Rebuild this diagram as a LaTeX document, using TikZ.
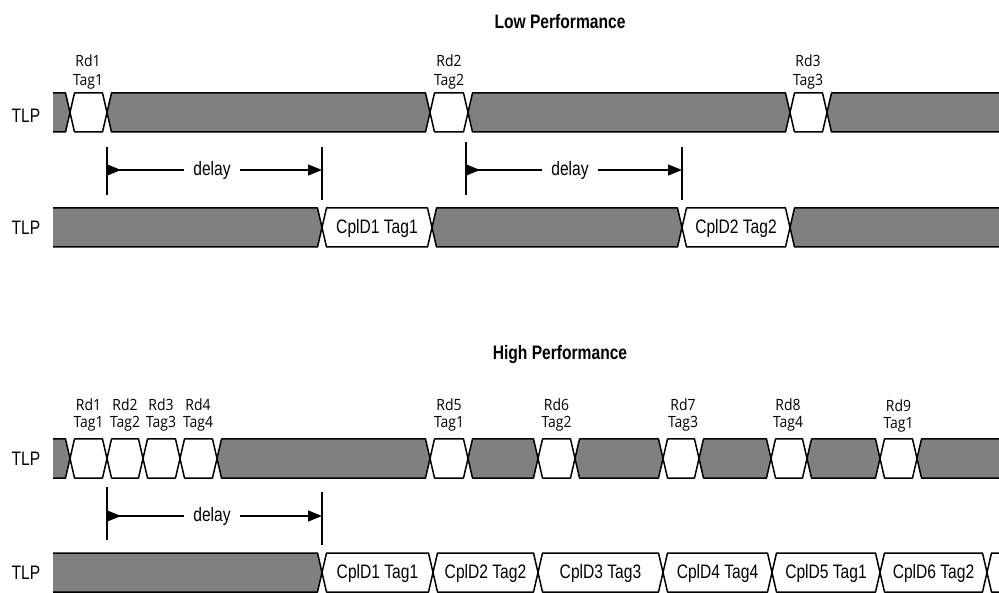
\documentclass[tikz,border=0pt]{standalone}
\usepackage{fontspec}
\setmainfont{Liberation Sans}[FakeStretch=0.8]
\newfontfamily\rdfont{Open Sans}[FakeStretch=0.9]
\usetikzlibrary{arrows.meta}
\newcommand\tdSeg[4]{\filldraw[bus,#4] (#1,#3+19.5) -- (#1+4.5,#3) -- (#2-4.5,#3) -- (#2,#3+19.5) -- (#2-4.5,#3+39) -- (#1+4.5,#3+39) -- cycle;}
\newcommand\tdStart[3]{\fill[#3] (53,#2) -- (#1-4.5,#2) -- (#1,#2+19.5) -- (#1-4.5,#2+39) -- (53,#2+39) -- cycle;
  \draw[bus] (53,#2) -- (#1-4.5,#2) -- (#1,#2+19.5) -- (#1-4.5,#2+39) -- (53,#2+39);}
\newcommand\tdEnd[3]{\fill[#3] (1000,#2) -- (#1+4.5,#2) -- (#1,#2+19.5) -- (#1+4.5,#2+39) -- (1000,#2+39) -- cycle;
  \draw[bus] (1000,#2) -- (#1+4.5,#2) -- (#1,#2+19.5) -- (#1+4.5,#2+39) -- (1000,#2+39);}
\tikzset{
  bus/.style={line width=1.5pt, line join=round},
  gry/.style={fill=black!50},
  wht/.style={fill=white},
  txt/.style={font=\fontsize{19.5}{22}\selectfont, inner sep=0pt},
  ttl/.style={font=\bfseries\fontsize{19.5}{22}\selectfont, inner sep=0pt},
  rdtop/.style={font=\rdfont\fontsize{15.5}{19}\selectfont, align=center, inner sep=0pt},
  rdbot/.style={font=\rdfont\fontsize{15.5}{16.5}\selectfont, align=center, inner sep=0pt},
  dly/.style={font=\fontsize{19.5}{22}\selectfont, inner ysep=0pt, inner xsep=9pt},
  markline/.style={line width=1.4pt},
  arrL/.style={line width=1.3pt, {Triangle[reversed,length=14pt,width=11pt]}-},
  arrR/.style={line width=1.3pt, -{Triangle[length=14pt,width=11pt]}},
}
\begin{document}
\begin{tikzpicture}[x=1pt,y=-1pt]
\useasboundingbox (0,0) rectangle (999,593);
% titles
\node[ttl] (tLow) at (560,22) {Low Performance};
\node[ttl] (tHigh) at (560,355) {High Performance};
% TLP labels
\node[txt] (tlp1) at (26,116) {TLP};
\node[txt] (tlp2) at (26,228) {TLP};
\node[txt] (tlp3) at (26,459) {TLP};
\node[txt] (tlp4) at (26,573) {TLP};
% row 1
\tdStart{70}{93}{gry}
\tdSeg{70}{107}{93}{wht}
\tdSeg{107}{430}{93}{gry}
\tdSeg{430}{468}{93}{wht}
\tdSeg{468}{790}{93}{gry}
\tdSeg{790}{827}{93}{wht}
\tdEnd{827}{93}{gry}
% row 2
\tdStart{322}{208}{gry}
\tdSeg{322}{432}{208}{wht}
\tdSeg{432}{682}{208}{gry}
\tdSeg{682}{790}{208}{wht}
\tdEnd{790}{208}{gry}
\node[txt] (c1a) at (377,228) {CplD1 Tag1};
\node[txt] (c2a) at (736,228) {CplD2 Tag2};
% row 3
\tdStart{70}{439}{gry}
\tdSeg{70}{107}{439}{wht}
\tdSeg{107}{143}{439}{wht}
\tdSeg{143}{180}{439}{wht}
\tdSeg{180}{217}{439}{wht}
\tdSeg{217}{430}{439}{gry}
\tdSeg{430}{468}{439}{wht}
\tdSeg{468}{538}{439}{gry}
\tdSeg{538}{575}{439}{wht}
\tdSeg{575}{663}{439}{gry}
\tdSeg{663}{699}{439}{wht}
\tdSeg{699}{771}{439}{gry}
\tdSeg{771}{807}{439}{wht}
\tdSeg{807}{880}{439}{gry}
\tdSeg{880}{917}{439}{wht}
\tdEnd{917}{439}{gry}
% row 4
\tdStart{322}{553}{gry}
\tdSeg{322}{433}{553}{wht}
\tdSeg{433}{538}{553}{wht}
\tdSeg{538}{663}{553}{wht}
\tdSeg{663}{772}{553}{wht}
\tdSeg{772}{880}{553}{wht}
\tdSeg{880}{987}{553}{wht}
\tdEnd{987}{553}{wht}
\node[txt] (c1b) at (377.5,573) {CplD1 Tag1};
\node[txt] (c2b) at (485.5,573) {CplD2 Tag2};
\node[txt] (c3b) at (600.5,573) {CplD3 Tag3};
\node[txt] (c4b) at (717.5,573) {CplD4 Tag4};
\node[txt] (c5b) at (826,573) {CplD5 Tag1};
\node[txt] (c6b) at (933.5,573) {CplD6 Tag2};
% Rd labels top
\node[rdtop] (r1) at (88,72) {Rd1\\Tag1};
\node[rdtop] (r2) at (449,72) {Rd2\\Tag2};
\node[rdtop] (r3) at (808,72) {Rd3\\Tag3};
% Rd labels bottom
\node[rdbot] (s1) at (88.5,415) {Rd1\\Tag1};
\node[rdbot] (s2) at (125,415) {Rd2\\Tag2};
\node[rdbot] (s3) at (161,415) {Rd3\\Tag3};
\node[rdbot] (s4) at (198,415) {Rd4\\Tag4};
\node[rdbot] (s5) at (449,415) {Rd5\\Tag1};
\node[rdbot] (s6) at (556.5,415) {Rd6\\Tag2};
\node[rdbot] (s7) at (683,415) {Rd7\\Tag3};
\node[rdbot] (s8) at (788,415) {Rd8\\Tag4};
\node[rdbot] (s9) at (898.5,416) {Rd9\\Tag1};
% delay 1
\coordinate (m1a) at (107,147); \coordinate (m1b) at (107,195);
\coordinate (m1c) at (322,147); \coordinate (m1d) at (322,200);
\draw[markline] (m1a) -- (m1b);
\draw[markline] (m1c) -- (m1d);
\node[dly] (d1) at (212,170) {delay};
\draw[arrL] (m1a |- d1) -- (d1.west);
\draw[arrR] (d1.east) -- (m1c |- d1);
% delay 2
\coordinate (m2a) at (466,142); \coordinate (m2b) at (466,195);
\coordinate (m2c) at (682,147); \coordinate (m2d) at (682,200);
\draw[markline] (m2a) -- (m2b);
\draw[markline] (m2c) -- (m2d);
\node[dly] (d2) at (570,170) {delay};
\draw[arrL] (m2a |- d2) -- (d2.west);
\draw[arrR] (d2.east) -- (m2c |- d2);
% delay 3
\coordinate (m3a) at (107,487); \coordinate (m3b) at (107,540);
\coordinate (m3c) at (322,492); \coordinate (m3d) at (322,545);
\draw[markline] (m3a) -- (m3b);
\draw[markline] (m3c) -- (m3d);
\node[dly] (d3) at (212,516) {delay};
\draw[arrL] (m3a |- d3) -- (d3.west);
\draw[arrR] (d3.east) -- (m3c |- d3);
\end{tikzpicture}
\end{document}
